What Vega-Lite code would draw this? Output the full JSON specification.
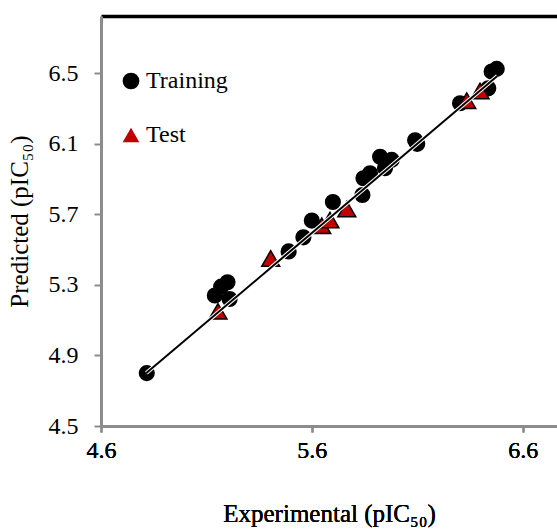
{
  "$schema": "https://vega.github.io/schema/vega-lite/v6.json",
  "width": 456,
  "height": 410,
  "autosize": {"type": "none"},
  "padding": {"left": 101, "top": 16, "right": 0, "bottom": 105},
  "background": "white",
  "config": {"view": {"stroke": null}, "font": "Liberation Serif"},
  "datasets": {
    "train": [
      {"experimental": 4.817, "predicted": 4.80, "set": "Training"},
      {"experimental": 5.14, "predicted": 5.24, "set": "Training"},
      {"experimental": 5.17, "predicted": 5.29, "set": "Training"},
      {"experimental": 5.20, "predicted": 5.315, "set": "Training"},
      {"experimental": 5.21, "predicted": 5.22, "set": "Training"},
      {"experimental": 5.49, "predicted": 5.49, "set": "Training"},
      {"experimental": 5.56, "predicted": 5.57, "set": "Training"},
      {"experimental": 5.60, "predicted": 5.665, "set": "Training"},
      {"experimental": 5.70, "predicted": 5.77, "set": "Training"},
      {"experimental": 5.84, "predicted": 5.81, "set": "Training"},
      {"experimental": 5.845, "predicted": 5.905, "set": "Training"},
      {"experimental": 5.876, "predicted": 5.933, "set": "Training"},
      {"experimental": 5.924, "predicted": 6.027, "set": "Training"},
      {"experimental": 5.979, "predicted": 6.009, "set": "Training"},
      {"experimental": 5.947, "predicted": 5.962, "set": "Training"},
      {"experimental": 6.09, "predicted": 6.12, "set": "Training"},
      {"experimental": 6.10, "predicted": 6.10, "set": "Training"},
      {"experimental": 6.303, "predicted": 6.33, "set": "Training"},
      {"experimental": 6.437, "predicted": 6.415, "set": "Training"},
      {"experimental": 6.453, "predicted": 6.51, "set": "Training"},
      {"experimental": 6.477, "predicted": 6.525, "set": "Training"}
    ],
    "test": [
      {"experimental": 5.155, "predicted": 5.15, "set": "Test"},
      {"experimental": 5.405, "predicted": 5.45, "set": "Test"},
      {"experimental": 5.647, "predicted": 5.635, "set": "Test"},
      {"experimental": 5.686, "predicted": 5.668, "set": "Test"},
      {"experimental": 5.766, "predicted": 5.73, "set": "Test"},
      {"experimental": 6.335, "predicted": 6.345, "set": "Test"},
      {"experimental": 6.398, "predicted": 6.40, "set": "Test"}
    ],
    "fit": [
      {"experimental": 4.815, "predicted": 4.80},
      {"experimental": 6.48, "predicted": 6.485}
    ]
  },
  "resolve": {"axis": {"x": "independent"}},
  "encoding": {
    "x": {
      "field": "experimental", "type": "quantitative",
      "scale": {"domain": [4.6, 6.763], "nice": false, "zero": false},
      "axis": {
        "orient": "bottom",
        "values": [4.6, 5.6, 6.6], "format": ".1f",
        "title": "Experimental (pIC₅₀)",
        "grid": false, "labelFlush": false, "labelOverlap": false,
        "domainColor": "#8c8c8c", "domainWidth": 3,
        "tickColor": "#8c8c8c", "tickWidth": 2, "tickSize": 6,
        "labelFont": "Liberation Serif", "labelFontSize": 24, "labelColor": "black", "labelPadding": 6,
        "titleFont": "Liberation Serif", "titleFontSize": 25, "titleFontWeight": "normal", "titleColor": "black", "titlePadding": 39
      }
    },
    "y": {
      "field": "predicted", "type": "quantitative",
      "scale": {"domain": [4.5, 6.825], "nice": false, "zero": false},
      "axis": {
        "values": [4.5, 4.9, 5.3, 5.7, 6.1, 6.5], "format": ".1f",
        "title": "Predicted (pIC₅₀)",
        "grid": false, "labelFlush": false, "labelOverlap": false,
        "domainColor": "#8c8c8c", "domainWidth": 3,
        "tickColor": "#8c8c8c", "tickWidth": 2, "tickSize": 7,
        "labelFont": "Liberation Serif", "labelFontSize": 24, "labelColor": "black", "labelPadding": 16,
        "titleFont": "Liberation Serif", "titleFontSize": 25, "titleFontWeight": "normal", "titleColor": "black", "titlePadding": 16
      }
    },
    "shape": {
      "field": "set", "type": "nominal",
      "scale": {"domain": ["Training", "Test"], "range": ["circle", "triangle-up"]},
      "legend": {
        "orient": "none", "legendX": 18, "legendY": 53, "title": null, "padding": 0,
        "labelFont": "Liberation Serif", "labelFontSize": 24, "labelColor": "black",
        "symbolSize": 280, "symbolStrokeColor": "black", "symbolStrokeWidth": 1.5,
        "rowPadding": 30, "labelOffset": 3,
        "encode": {"symbols": {"update": {"stroke": {"value": "black"}, "strokeWidth": {"value": 1.5}}}}
      }
    },
    "fill": {
      "field": "set", "type": "nominal",
      "scale": {"domain": ["Training", "Test"], "range": ["#000000", "#C00000"]},
      "legend": {
        "orient": "none", "legendX": 18, "legendY": 53, "title": null, "padding": 0,
        "labelFont": "Liberation Serif", "labelFontSize": 24, "labelColor": "black",
        "symbolSize": 280, "symbolStrokeColor": "black", "symbolStrokeWidth": 1.5,
        "rowPadding": 30, "labelOffset": 3,
        "encode": {"symbols": {"update": {"stroke": {"value": "black"}, "strokeWidth": {"value": 1.5}}}}
      }
    }
  },
  "layer": [
    {
      "data": {"name": "train"},
      "mark": {"type": "point", "filled": true, "opacity": 1, "strokeWidth": 1.5, "size": 215},
      "encoding": {"stroke": {"value": "black"}}
    },
    {
      "data": {"name": "test"},
      "mark": {"type": "point", "filled": true, "opacity": 1, "strokeWidth": 1.5, "size": 320},
      "encoding": {"stroke": {"value": "black"}}
    },
    {
      "data": {"name": "fit"},
      "mark": {"type": "line", "color": "white", "strokeWidth": 4},
      "encoding": {
        "shape": null, "fill": null,
        "x": {
          "field": "experimental", "type": "quantitative",
          "axis": {"orient": "top", "domainColor": "black", "domainWidth": 3.5, "ticks": false, "labels": false, "title": null, "grid": false}
        }
      }
    },
    {
      "data": {"name": "fit"},
      "mark": {"type": "line", "color": "black", "strokeWidth": 2},
      "encoding": {"shape": null, "fill": null}
    }
  ]
}
